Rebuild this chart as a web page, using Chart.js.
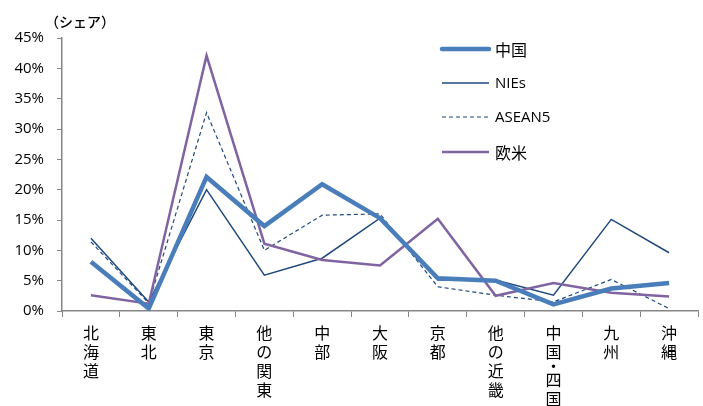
<!DOCTYPE html>
<html>
<head>
<meta charset="utf-8">
<script src="https://cdn.jsdelivr.net/npm/chart.js@4"></script>
<style>
  html, body { margin: 0; padding: 0; background: #fff; }
  #wrap { width: 703px; height: 406px; }
</style>
</head>
<body>
<div id="wrap"><canvas id="c" width="703" height="406"></canvas></div>
<script>
// 地域別シェア（%）
const regions = ['北海道', '東北', '東京', '他の関東', '中部', '大阪', '京都', '他の近畿', '中国・四国', '九州', '沖縄'];
const china  = [8.1, 0.4, 22.1, 14.0, 20.9, 15.3, 5.4, 5.0, 1.1, 3.7, 4.6];
const nies   = [12.0, 1.5, 20.0, 5.9, 8.7, 15.3, 5.1, 5.1, 2.6, 15.1, 9.6];
const asean5 = [11.4, 1.3, 32.7, 10.0, 15.8, 16.0, 4.0, 2.6, 1.5, 5.2, 0.4];
const westEU = [2.6, 1.2, 42.1, 11.1, 8.4, 7.5, 15.2, 2.5, 4.6, 3.0, 2.4];
const yTicks = [0, 5, 10, 15, 20, 25, 30, 35, 40, 45];
const seriesNames = ['中国', 'NIEs', 'ASEAN5', '欧米'];

const JP = '"Noto Sans CJK JP", "Noto Sans", sans-serif';
const LAT = '"Open Sans", "Liberation Sans", sans-serif';
const AXIS = '#868686';

// 縦書きの地域名と凡例・単位を描くプラグイン
const decorations = {
  id: 'decorations',
  afterDraw(chart) {
    const ctx = chart.ctx;
    const xs = chart.scales.x;
    ctx.save();
    ctx.fillStyle = '#000';
    ctx.textAlign = 'center';
    ctx.textBaseline = 'middle';
    ctx.font = '16px ' + JP;
    regions.forEach((name, i) => {
      const x = xs.getPixelForValue(i);
      const chars = Array.from(name);
      let y = 333;
      chars.forEach((ch, k) => {
        ctx.fillText(ch, x, y);
        const next = chars[k + 1];
        y += (ch === '・' || next === '・') ? 14 : 19;
      });
    });

    // 単位
    ctx.textAlign = 'left';
    ctx.font = '500 14px ' + JP;
    ctx.fillText('（シェア）', 45, 22);

    // 凡例
    const rows = [49, 83, 117, 152];
    chart.data.datasets.forEach((ds, i) => {
      const y = rows[i];
      ctx.beginPath();
      ctx.strokeStyle = ds.borderColor;
      ctx.lineWidth = ds.borderWidth;
      ctx.lineCap = i === 0 ? 'round' : 'butt';
      ctx.setLineDash(ds.borderDash || []);
      ctx.moveTo(442, y);
      ctx.lineTo(489, y);
      ctx.stroke();
      ctx.setLineDash([]);
      ctx.fillStyle = '#000';
      ctx.font = (i === 0 || i === 3 ? '16px ' + JP : '15px ' + LAT);
      ctx.fillText(ds.label, 495, y + 1);
    });
    ctx.restore();
  }
};

new Chart(document.getElementById('c'), {
  type: 'line',
  data: {
    labels: regions,
    datasets: [
      { label: seriesNames[0], data: china,  borderColor: '#4A7EBB', borderWidth: 4.5, order: 1 },
      { label: seriesNames[1], data: nies,   borderColor: '#1F497D', borderWidth: 1.5, order: 3 },
      { label: seriesNames[2], data: asean5, borderColor: '#1F497D', borderWidth: 1.2, borderDash: [4, 3], order: 4 },
      { label: seriesNames[3], data: westEU, borderColor: '#8064A2', borderWidth: 2.5, order: 2 }
    ]
  },
  options: {
    responsive: false,
    animation: false,
    devicePixelRatio: 1,
    layout: { padding: { top: 38, right: 5, left: 0, bottom: 0 } },
    elements: {
      point: { radius: 0, hoverRadius: 0 },
      line: { tension: 0, fill: false, borderJoinStyle: 'miter' }
    },
    plugins: {
      legend: { display: false },
      tooltip: { enabled: false }
    },
    scales: {
      x: {
        type: 'category',
        offset: true,
        grid: { offset: true, drawOnChartArea: false, drawTicks: true, tickLength: 6, color: AXIS },
        border: { color: AXIS, width: 1.5 },
        ticks: { callback: () => '', autoSkip: false, maxRotation: 0 },
        afterFit(scale) { scale.height = 95; }
      },
      y: {
        min: 0,
        max: 45,
        afterBuildTicks(scale) { scale.ticks = yTicks.map(v => ({ value: v })); },
        grid: { drawOnChartArea: false, drawTicks: true, tickLength: 5, color: AXIS },
        border: { color: AXIS, width: 1.5 },
        ticks: {
          padding: 13,
          color: '#000',
          font: { family: LAT, size: 15 },
          callback: v => v + '%'
        },
        afterFit(scale) { scale.width = 62; }
      }
    }
  },
  plugins: [decorations]
});
</script>
</body>
</html>
